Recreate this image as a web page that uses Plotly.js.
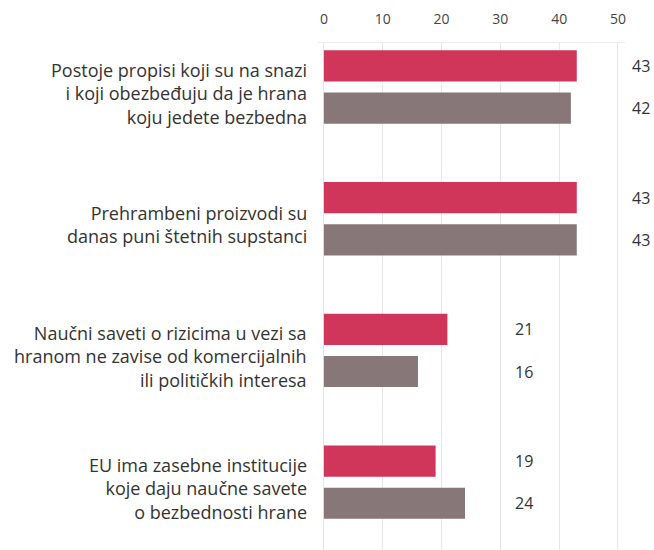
<!DOCTYPE html>
<html>
<head>
<meta charset="utf-8">
<script src="https://cdn.plot.ly/plotly-3.0.1.min.js"></script>
<style>
  body { margin: 0; background: #fff; }
  #chart { width: 654px; height: 550px; }
</style>
</head>
<body>
<div id="chart"></div>
<script>
const categories = [
    "Postoje propisi koji su na snazi<br>i koji obezbeđuju da je hrana<br>koju jedete bezbedna",
    "Prehrambeni proizvodi su<br>danas puni štetnih supstanci",
    "Naučni saveti o rizicima u vezi sa<br>hranom ne zavise od komercijalnih<br>ili političkih interesa",
    "EU ima zasebne institucije<br>koje daju naučne savete<br>o bezbednosti hrane"
];
const redValues = [43, 43, 21, 19];
const greyValues = [42, 43, 16, 24];
const xTicks = [0, 10, 20, 30, 40, 50];

const xRange = [-1, 51.2];
// where the value labels start (x, in axis units) for each category
const labelStart = [52, 52, 32.1, 32.1];

const red = "#cf3659";
const grey = "#877779";
const textColor = "#333333";

const toPaper = (v) => (v - xRange[0]) / (xRange[1] - xRange[0]);

const traces = [
    { type: "bar", orientation: "h", y: categories, x: redValues, marker: { color: red }, hoverinfo: "x" },
    { type: "bar", orientation: "h", y: categories, x: greyValues, marker: { color: grey }, hoverinfo: "x" }
];

const annotations = [];
categories.forEach((c, i) => {
    // category text, right aligned next to the axis
    annotations.push({ x: 0, y: i, xref: "paper", yref: "y", text: c, align: "right",
        showarrow: false, xanchor: "right", xshift: -9, yshift: -6,
        font: { size: 18, color: textColor } });
    // value labels sit in a column to the right of each pair
    annotations.push({ x: toPaper(labelStart[i]), y: i - 0.16, xref: "paper", yref: "y", text: String(redValues[i]),
        showarrow: false, xanchor: "left", font: { size: 16, color: textColor } });
    annotations.push({ x: toPaper(labelStart[i]), y: i + 0.16, xref: "paper", yref: "y", text: String(greyValues[i]),
        showarrow: false, xanchor: "left", font: { size: 16, color: textColor } });
});

const layout = {
    width: 654,
    height: 550,
    margin: { l: 318, r: 29, t: 43, b: 0 },
    paper_bgcolor: "#fff",
    plot_bgcolor: "#fff",
    font: { family: "Open Sans, sans-serif", color: textColor },
    showlegend: false,
    barmode: "group",
    bargap: 0.36,
    bargroupgap: 0.26,
    xaxis: {
        side: "top",
        range: xRange,
        tickvals: xTicks,
        ticktext: xTicks.map(String),
        showgrid: true,
        gridcolor: "#e6e6e6",
        zeroline: true,
        zerolinecolor: "#e6e6e6",
        showline: true,
        linecolor: "#ececec",
        ticks: "",
        ticklabelstandoff: 12,
        tickfont: { size: 14, color: "#444" },
        fixedrange: true
    },
    yaxis: {
        type: "category",
        range: [3.515, -0.334],
        showgrid: false,
        zeroline: false,
        showticklabels: false,
        fixedrange: true
    },
    annotations: annotations
};

Plotly.newPlot("chart", traces, layout, { displayModeBar: false, staticPlot: true });
</script>
</body>
</html>
